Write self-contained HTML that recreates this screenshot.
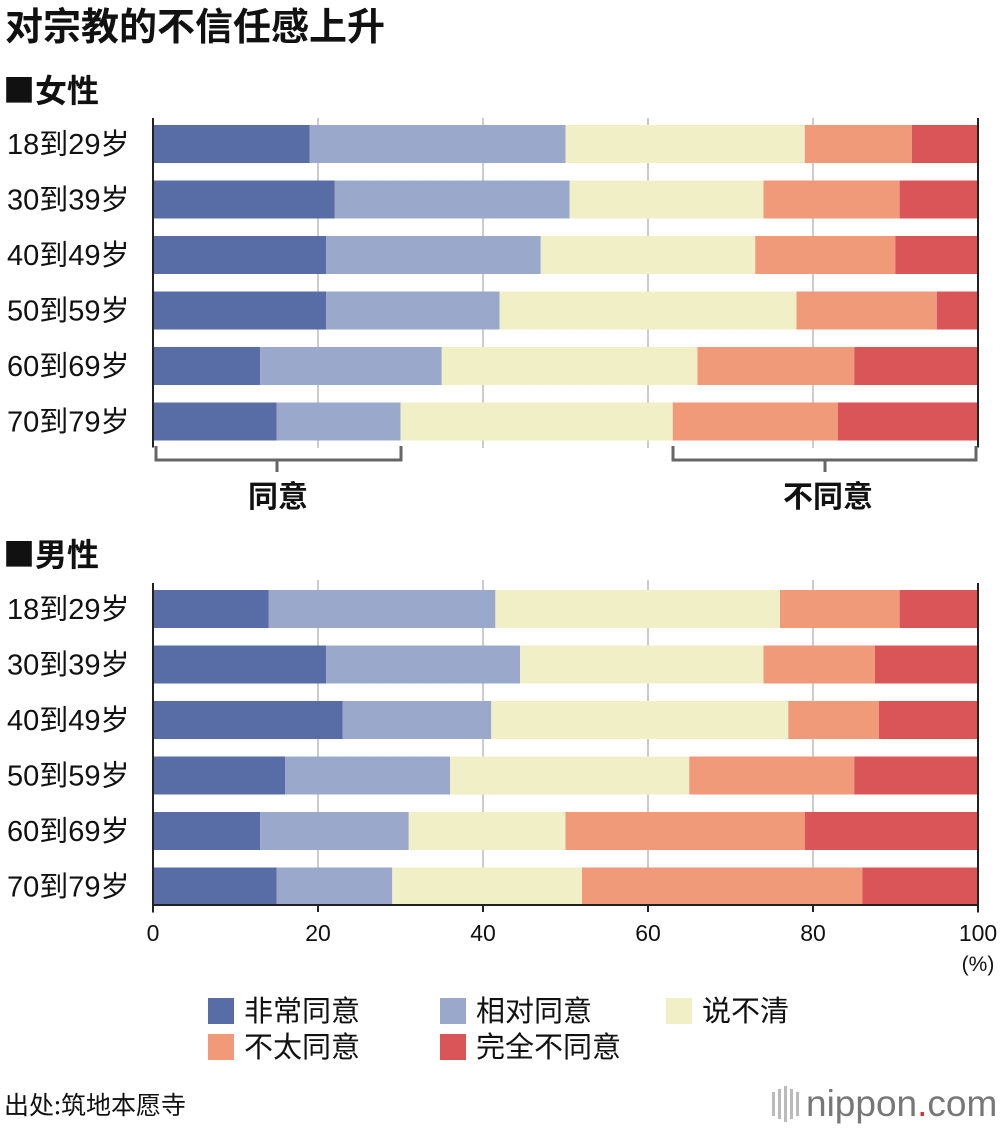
<!DOCTYPE html>
<html><head><meta charset="utf-8"><style>
body{margin:0;background:#fff;font-family:"Liberation Sans","Noto Sans CJK SC",sans-serif;}
</style></head><body>
<svg width="1000" height="1126" xmlns="http://www.w3.org/2000/svg" font-family="Liberation Sans, Noto Sans CJK SC, sans-serif" id="chart">
<text x="5" y="40" font-size="38" font-weight="bold" fill="#111" font-family="Noto Sans CJK SC, sans-serif">对宗教的不信任感上升</text>
<text x="3" y="102" font-size="32" font-weight="bold" fill="#111" font-family="Noto Sans CJK SC, sans-serif">■女性</text>
<text x="3" y="566" font-size="32" font-weight="bold" fill="#111" font-family="Noto Sans CJK SC, sans-serif">■男性</text>
<g id="grid"></g>
<g id="bars"></g>
<g id="axis"></g>
<g stroke="#666" stroke-width="3" fill="none">
<path d="M156 446 V460 H401 V446 M277 460 V472"/>
<path d="M673 446 V460 H976 V446 M825 460 V472"/>
</g>
<text x="278" y="507" font-size="30" font-weight="bold" text-anchor="middle" fill="#111" font-family="Noto Sans CJK SC, sans-serif">同意</text>
<text x="828" y="507" font-size="30" font-weight="bold" text-anchor="middle" fill="#111" font-family="Noto Sans CJK SC, sans-serif">不同意</text>
<text x="978" y="971" font-size="21" text-anchor="middle" fill="#111">(%)</text>
<g id="legend"></g>
<text x="4" y="1114" font-size="25" fill="#111" font-family="Noto Sans CJK SC, sans-serif">出处:筑地本愿寺</text>
<g>
<rect x="772" y="1092" width="3" height="24" fill="#bbb"/><rect x="778" y="1089" width="3" height="30" fill="#bbb"/><rect x="784" y="1086" width="3" height="36" fill="#bbb"/><rect x="790" y="1089" width="3" height="30" fill="#bbb"/><rect x="796" y="1092" width="3" height="24" fill="#bbb"/>
<text x="806" y="1116" font-size="37" fill="#777">nippon<tspan fill="#d33">.</tspan>com</text>
</g>
</svg>
<script>
const ages=["18到29岁","30到39岁","40到49岁","50到59岁","60到69岁","70到79岁"];
const seriesNames=["非常同意","相对同意","说不清","不太同意","完全不同意"];
const colors=["#586ca6","#9aa8cb","#f1efc6","#f09a79","#d95557"];
const female=[[19,31,29,13,8],[22,28.5,23.5,16.5,9.5],[21,26,26,17,10],[21,21,36,17,5],[13,22,31,19,15],[15,15,33,20,17]];
const male=[[14,27.5,34.5,14.5,9.5],[21,23.5,29.5,13.5,12.5],[23,18,36,11,12],[16,20,29,20,15],[13,18,19,29,21],[15,14,23,34,14]];
const ticks=[0,20,40,60,80,100];
const NS="http://www.w3.org/2000/svg";
const x=v=>153+v*8.25;
function el(t,a,p){const e=document.createElementNS(NS,t);for(const k in a)e.setAttribute(k,a[k]);p.appendChild(e);return e;}
const grid=document.getElementById('grid'),bars=document.getElementById('bars'),axis=document.getElementById('axis'),legend=document.getElementById('legend');
[[118,448],[580,905]].forEach(r=>{ticks.slice(1,5).forEach(t=>{const l=el('line',{x1:x(t),x2:x(t),y1:r[0],y2:r[1],stroke:'#ccc','stroke-width':2},grid);

});});
function panel(data,y0,tag){data.forEach((row,i)=>{const cy=y0+i*55.5;let acc=0;
const lab=el('text',{x:7,y:cy+10,'font-size':29,fill:'#111'},bars);lab.textContent=ages[i];


row.forEach((v,j)=>{const r=el('rect',{x:x(acc),y:cy-19,width:x(acc+v)-x(acc),height:38,fill:colors[j]},bars);

acc+=v;});});
const a=el('line',{x1:153,x2:153,y1:y0-26,y2:y0+5*55.5+26,stroke:'#222','stroke-width':2},axis);


const b=el('line',{x1:978,x2:978,y1:y0-26,y2:y0+5*55.5+26,stroke:'#222','stroke-width':2},axis);

}
panel(female,144,'female');panel(male,609,'male');
const xa=el('line',{x1:153,x2:979,y1:905,y2:905,stroke:'#222','stroke-width':2},axis);


ticks.forEach(t=>{el('line',{x1:x(t),x2:x(t),y1:905,y2:912,stroke:'#222','stroke-width':2},axis);
const tx=el('text',{x:x(t),y:941,'font-size':23,'text-anchor':'middle',fill:'#111'},axis);tx.textContent=t;

});
const lp=[[208,1011],[440,1011],[666,1011],[208,1047],[440,1047]];
seriesNames.forEach((n,i)=>{const g=el('g',{},legend);


el('rect',{x:lp[i][0],y:lp[i][1]-13,width:26,height:26,fill:colors[i]},g);
const t=el('text',{x:lp[i][0]+36,y:lp[i][1]+10,'font-size':29,fill:'#111','font-family':'Noto Sans CJK SC, sans-serif'},g);t.textContent=n;});
</script>
</body></html>
